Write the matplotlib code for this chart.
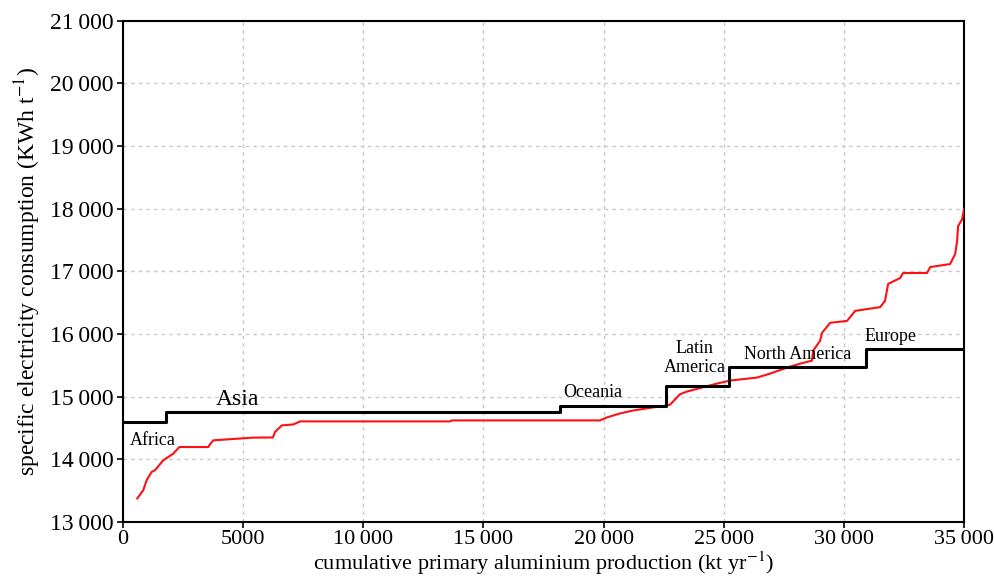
""" specific electricity consumption vs cumulative aluminium production """

import matplotlib
matplotlib.use("Agg")
import matplotlib.pyplot as plt

plt.rcParams['font.family'] = ['Liberation Serif', 'DejaVu Serif']
plt.rcParams['mathtext.fontset'] = 'stix'

# regional average (black step line)
region_edges = [0, 1800, 18200, 22600, 25200, 30900, 35000]
region_values = [14600, 14750, 14860, 15170, 15470, 15760]

# smelter cost curve (red line)
curve_x = [595, 845, 985, 1194, 1332, 1678, 2094, 2344, 3550, 3620, 3758, 5410,
           6240, 6326, 6605, 7090, 7370, 13610, 13680, 19850, 20140, 20680, 21230,
           22060, 22640, 22770, 23180, 23470, 24720, 25260, 26390, 26930, 27640,
           28180, 28670, 28720, 29010, 29090, 29430, 30130, 30470, 30970, 31510,
           31710, 31840, 31920, 32340, 32460, 33460, 33590, 34420, 34630, 34710,
           34750, 34920, 35000]
curve_y = [13377, 13509, 13668, 13800, 13827, 13986, 14092, 14197, 14197, 14240,
           14304, 14347, 14350, 14436, 14542, 14558, 14606, 14606, 14622, 14622,
           14670, 14733, 14780, 14830, 14860, 14876, 15040, 15083, 15210, 15258,
           15306, 15370, 15465, 15528, 15576, 15735, 15894, 16020, 16180, 16210,
           16370, 16400, 16430, 16530, 16800, 16816, 16895, 16975, 16975, 17070,
           17118, 17278, 17484, 17722, 17834, 18000]

# region labels
labels = ['Africa', 'Asia', 'Oceania', 'Latin\nAmerica', 'North America', 'Europe']
label_x = [1250, 4750, 19560, 23800, 28090, 31920]
label_y = [14300, 14960, 15070, 15620, 15670, 15960]
label_size = [13, 17, 13, 13, 13, 13]

x_ticks = [0, 5000, 10000, 15000, 20000, 25000, 30000, 35000]
x_ticklabels = ['0', '5000', '10\u2009000', '15\u2009000', '20\u2009000',
                '25\u2009000', '30\u2009000', '35\u2009000']
y_ticks = list(range(13000, 21001, 1000))
y_ticklabels = [f"{v // 1000}\u2009000" for v in y_ticks]

fig = plt.figure(figsize=(9.95, 5.79), dpi=100)
ax = fig.add_axes([0.1236, 0.0984, 0.8453, 0.8656])

ax.grid(True, color='#c8c8c8', linestyle=(0, (2.5, 3)), linewidth=1)
ax.set_axisbelow(True)

ax.plot(curve_x, curve_y, color='#ff1010', linewidth=1.5, zorder=3)
ax.step(region_edges, region_values + [region_values[-1]], where='post',
        color='black', linewidth=2.2, zorder=4)

for txt, lx, ly, sz in zip(labels, label_x, label_y, label_size):
    ax.text(lx, ly, txt, ha='center', va='center', fontsize=sz,
            linespacing=1.1, zorder=5)

ax.set_xlim(0, 35000)
ax.set_ylim(13000, 21000)
ax.set_xticks(x_ticks)
ax.set_xticklabels(x_ticklabels)
ax.set_yticks(y_ticks)
ax.set_yticklabels(y_ticklabels)
ax.tick_params(length=4, width=1.2, direction='out')
ax.tick_params(axis='y', labelsize=17, pad=3)
ax.tick_params(axis='x', labelsize=16, pad=2)
for s in ax.spines.values():
    s.set_linewidth(1.5)

ax.set_xlabel(r'cumulative primary aluminium production (kt yr$^{-1}$)',
              fontsize=16, labelpad=0)
ax.set_ylabel(r'specific electricity consumption (KWh t$^{-1}$)',
              fontsize=17, labelpad=5)

fig.savefig('out.png', dpi=100)
